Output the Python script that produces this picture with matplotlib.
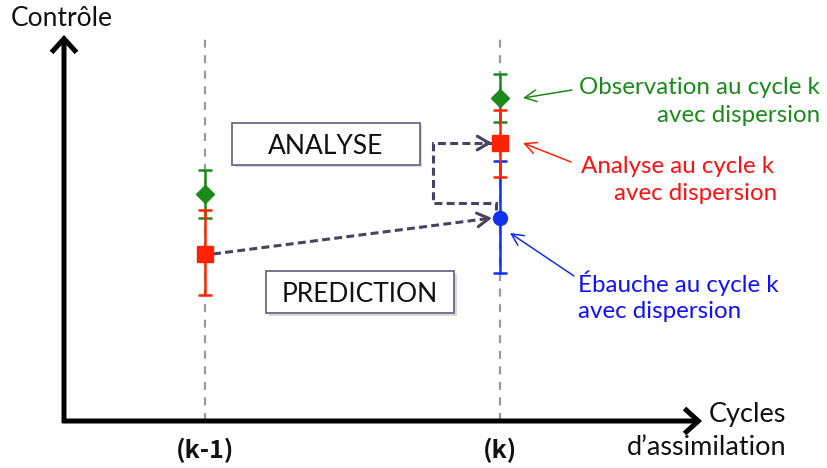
import matplotlib
matplotlib.use("Agg")
import matplotlib.pyplot as plt
from matplotlib.patches import Rectangle

# ---------------- data ----------------
cycles = [1, 2]                      # (k-1), (k)
cycle_labels = ["(k-1)", "(k)"]

obs_vals = [2.28, 3.24]              # observation (green diamonds)
obs_err_lo = [0.24, 0.24]
obs_err_hi = [0.24, 0.24]

ana_vals = [1.68, 2.79]              # analyse (red squares)
ana_err_lo = [0.41, 0.34]
ana_err_hi = [0.44, 0.33]

eb_cycle = [2]                       # ébauche (blue circle) at cycle k
eb_vals = [2.04]
eb_err_lo = [0.55]
eb_err_hi = [0.57]

# ---------------- layout helpers (pixel -> data) ----------------
W, H = 827, 468
def X(px):
    return 1 + (px - 205) / 295.0
def Y(py):
    return (422 - py) / 100.0

FONT = ["Lato", "DejaVu Sans"]
TICKFONT = ["Noto Sans CJK KR", "DejaVu Sans"]
GREEN = "#1a8a1a"
RED = "#ff2200"
BLUE = "#1030f0"
PURPLE = "#4b4262"

fig = plt.figure(figsize=(W / 100, H / 100), dpi=100)
ax = fig.add_axes([0, 0, 1, 1])
ax.set_xlim(X(0), X(W))
ax.set_ylim(Y(H), Y(0))
ax.axis("off")

# gray dashed cycle lines
ax.vlines(cycles, Y(421), Y(35), colors="#9a9a9a", lw=1.6,
          linestyles=(0, (3.6, 3.4)), zorder=1)

# axes arrows
arrow_kw = dict(arrowstyle="->,head_length=0.55,head_width=0.5", lw=3.6,
                color="black", shrinkA=0, shrinkB=0, mutation_scale=18,
                capstyle="butt", joinstyle="miter")
ax.annotate("", xy=(X(702), Y(421)), xytext=(X(62), Y(421)),
            arrowprops=arrow_kw, zorder=3)
ax.annotate("", xy=(X(64), Y(35)), xytext=(X(64), Y(423)),
            arrowprops=arrow_kw, zorder=3)

# axis texts
ax.text(X(11), Y(26), "Contrôle", fontsize=19, family=FONT, color="#111",
        ha="left", va="baseline")
ax.text(X(786), Y(422), "Cycles", fontsize=19.5, family=FONT, color="#111",
        ha="right", va="baseline")
ax.text(X(786), Y(455), "d\u2019assimilation", fontsize=19.5, family=FONT,
        color="#111", ha="right", va="baseline")
for c, lab in zip(cycles, cycle_labels):
    ax.text(c, Y(458), lab, fontsize=18, family=TICKFONT, weight="bold",
            color="#111", ha="center", va="baseline")

# purple dashed arrows
dash = (0, (2.6, 1.4))
# prediction: from analysis at k-1 to ebauche at k
x0, y0 = cycles[0] + 8 / 295, ana_vals[0]
x1, y1 = eb_cycle[0] - 8 / 295, eb_vals[0]
ax.plot([x0, x1], [y0, y1], color=PURPLE, lw=2.2, linestyle=dash, zorder=2)
head_kw = dict(arrowstyle="->,head_length=0.6,head_width=0.35", lw=2.2,
               color=PURPLE, shrinkA=0, shrinkB=0, mutation_scale=14)
dx = (x1 - x0)
dy = (y1 - y0)
ax.annotate("", xy=(x1, y1), xytext=(x1 - dx * 0.02, y1 - dy * 0.02),
            arrowprops=head_kw, zorder=2)
# analysis loop: from ebauche at k around to analysis at k
lx = X(433)
xr = eb_cycle[0] - 4 / 295
path_x = [xr, xr, lx, lx, cycles[1] - 8 / 295]
path_y = [eb_vals[0] + 0.08, Y(203), Y(203), ana_vals[1], ana_vals[1]]
ax.plot(path_x, path_y, color=PURPLE, lw=2.2, linestyle=dash, zorder=2,
        solid_joinstyle="miter", dash_joinstyle="miter")
ax.annotate("", xy=(cycles[1] - 8 / 295, ana_vals[1]),
            xytext=(cycles[1] - 14 / 295, ana_vals[1]),
            arrowprops=head_kw, zorder=2)

# error bars with markers
eb_common = dict(capsize=5.2, elinewidth=1.8, capthick=1.8)
ax.errorbar(eb_cycle, eb_vals, yerr=[eb_err_lo, eb_err_hi], fmt="o",
            color=BLUE, ms=10, zorder=4, **eb_common)
ax.errorbar(cycles, obs_vals, yerr=[obs_err_lo, obs_err_hi], fmt="D",
            color=GREEN, ms=9, zorder=5, **eb_common)
ax.errorbar(cycles, ana_vals, yerr=[ana_err_lo, ana_err_hi], fmt="s",
            color=RED, ms=11, zorder=6, **eb_common)

# boxes
def box(px0, py0, px1, py1, label):
    ax.add_patch(Rectangle((X(px0 + 2.5), Y(py1 + 2.5)), X(px1) - X(px0),
                           Y(py0) - Y(py1), facecolor="#d8d8d8",
                           edgecolor="none", zorder=2))
    ax.add_patch(Rectangle((X(px0), Y(py1)), X(px1) - X(px0),
                           Y(py0) - Y(py1), facecolor="white",
                           edgecolor="#6e6885", lw=1.3, zorder=3))
    ax.text((X(px0) + X(px1)) / 2, (Y(py0) + Y(py1)) / 2, label,
            fontsize=19, family=FONT, color="#111", ha="center",
            va="center_baseline", zorder=4)

box(232, 123, 420, 165, "ANALYSE")
box(266, 271, 454, 313, "PREDICTION")

# legend annotations
ann_kw = dict(arrowstyle="->,head_length=0.6,head_width=0.3", lw=1.1,
              shrinkA=0, shrinkB=0, mutation_scale=14)
ax.annotate("", xy=(cycles[1] + 23 / 295, obs_vals[1]),
            xytext=(X(572), Y(90)), arrowprops=dict(color=GREEN, **ann_kw))
ax.annotate("", xy=(cycles[1] + 23 / 295, ana_vals[1]),
            xytext=(X(571), Y(162)), arrowprops=dict(color=RED, **ann_kw))
ax.annotate("", xy=(eb_cycle[0] + 10 / 295, Y(233)),
            xytext=(X(574), Y(276)), arrowprops=dict(color=BLUE, **ann_kw))

tkw = dict(fontsize=17.4, family=FONT, va="baseline")
ax.text(X(820), Y(94), "Observation au cycle k", color=GREEN, ha="right", **tkw)
ax.text(X(820), Y(122), "avec dispersion", color=GREEN, ha="right", **tkw)
ax.text(X(774), Y(173), "Analyse au cycle k", color="#ff1010", ha="right", **tkw)
ax.text(X(777), Y(200), "avec dispersion", color="#ff1010", ha="right", **tkw)
ax.text(X(578), Y(292), "Ébauche au cycle k", color="#1010ff", ha="left", **tkw)
ax.text(X(578), Y(318), "avec dispersion", color="#1010ff", ha="left", **tkw)

fig.savefig("out.png", dpi=100, facecolor="white")
